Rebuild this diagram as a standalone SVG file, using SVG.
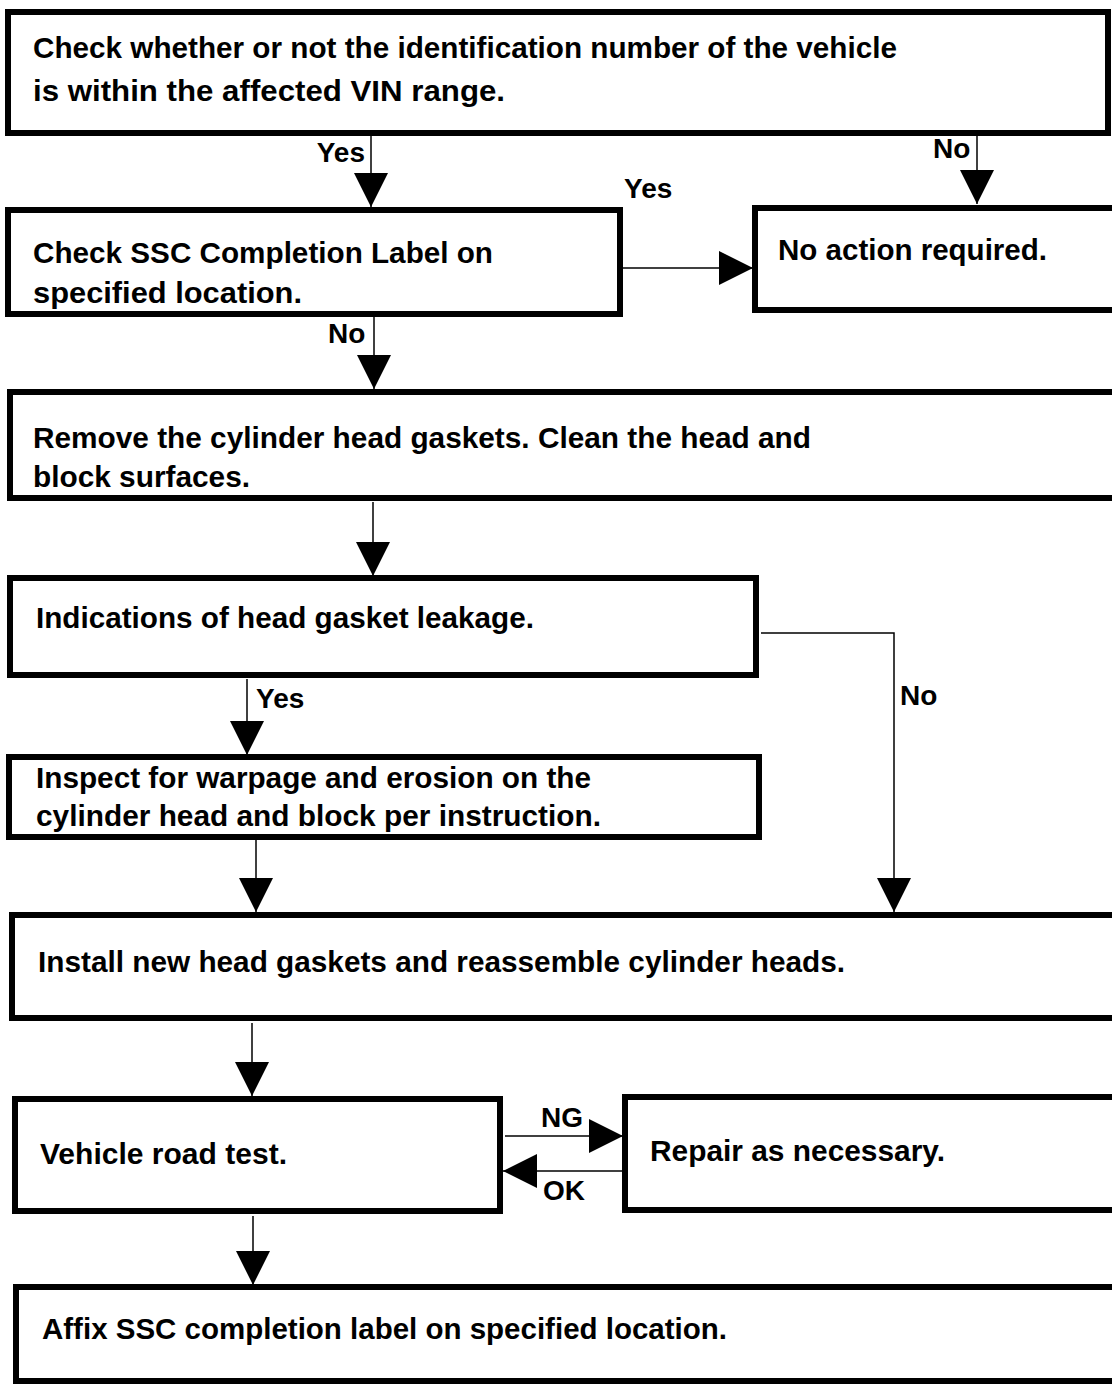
<svg xmlns="http://www.w3.org/2000/svg" width="1112" height="1387" viewBox="0 0 1112 1387">
<defs>
<style>
.box{fill:#fff;stroke:#000;stroke-width:6}
.t{font-family:"Liberation Sans",Arial,sans-serif;font-weight:bold;font-size:29.5px;fill:#000}
.lb{font-family:"Liberation Sans",Arial,sans-serif;font-weight:bold;font-size:28px;fill:#000}
.c{fill:none;stroke:#000;stroke-width:1.5}
</style>
<marker id="ah" markerUnits="userSpaceOnUse" markerWidth="34" markerHeight="34" refX="32" refY="16" orient="auto" viewBox="0 0 32 32">
<path d="M0,0 L32,16 L0,32 z" fill="#000"/>
</marker>
</defs>
<rect width="1112" height="1387" fill="#fff"/>
<g id="connectors">
<line class="c" x1="371" y1="136" x2="371" y2="207" marker-end="url(#ah)"/>
<line class="c" x1="977" y1="136" x2="977" y2="204" marker-end="url(#ah)"/>
<line class="c" x1="623" y1="268" x2="753" y2="268" marker-end="url(#ah)"/>
<line class="c" x1="374" y1="316" x2="374" y2="389" marker-end="url(#ah)"/>
<line class="c" x1="373" y1="502" x2="373" y2="576" marker-end="url(#ah)"/>
<line class="c" x1="247" y1="679" x2="247" y2="755" marker-end="url(#ah)"/>
<polyline class="c" points="761,633 894,633 894,912" marker-end="url(#ah)"/>
<line class="c" x1="256" y1="839" x2="256" y2="912" marker-end="url(#ah)"/>
<line class="c" x1="252" y1="1023" x2="252" y2="1096" marker-end="url(#ah)"/>
<line class="c" x1="505" y1="1136" x2="623" y2="1136" marker-end="url(#ah)"/>
<line class="c" x1="623" y1="1171" x2="503" y2="1171" marker-end="url(#ah)"/>
<line class="c" x1="253" y1="1216" x2="253" y2="1285" marker-end="url(#ah)"/>
<text class="lb" x="365" y="162" text-anchor="end">Yes</text>
<text class="lb" x="933" y="158">No</text>
<text class="lb" x="624" y="198">Yes</text>
<text class="lb" x="328" y="343">No</text>
<text class="lb" x="256" y="708">Yes</text>
<text class="lb" x="900" y="705">No</text>
<text class="lb" x="541" y="1127">NG</text>
<text class="lb" x="543" y="1200">OK</text>
</g>
<g id="n1">
<rect class="box" x="8" y="12" width="1100" height="121"/>
<text class="t" x="33" y="58" textLength="864" lengthAdjust="spacingAndGlyphs">Check whether or not the identification number of the vehicle</text>
<text class="t" x="33" y="101" textLength="472" lengthAdjust="spacingAndGlyphs">is within the affected VIN range.</text>
</g>
<g id="n2">
<rect class="box" x="8" y="210" width="612" height="104"/>
<text class="t" x="33" y="263" textLength="460" lengthAdjust="spacingAndGlyphs">Check SSC Completion Label on</text>
<text class="t" x="33" y="303" textLength="269" lengthAdjust="spacingAndGlyphs">specified location.</text>
</g>
<g id="n3">
<rect class="box" x="755" y="208" width="370" height="102"/>
<text class="t" x="778" y="260" textLength="269" lengthAdjust="spacingAndGlyphs">No action required.</text>
</g>
<g id="n4">
<rect class="box" x="10" y="392" width="1120" height="106"/>
<text class="t" x="33" y="448" textLength="778" lengthAdjust="spacingAndGlyphs">Remove the cylinder head gaskets. Clean the head and</text>
<text class="t" x="33" y="487" textLength="217" lengthAdjust="spacingAndGlyphs">block surfaces.</text>
</g>
<g id="n5">
<rect class="box" x="10" y="578" width="746" height="97"/>
<text class="t" x="36" y="628" textLength="498" lengthAdjust="spacingAndGlyphs">Indications of head gasket leakage.</text>
</g>
<g id="n6">
<rect class="box" x="9" y="757" width="750" height="80"/>
<text class="t" x="36" y="788" textLength="555" lengthAdjust="spacingAndGlyphs">Inspect for warpage and erosion on the</text>
<text class="t" x="36" y="826" textLength="565" lengthAdjust="spacingAndGlyphs">cylinder head and block per instruction.</text>
</g>
<g id="n7">
<rect class="box" x="12" y="915" width="1120" height="103"/>
<text class="t" x="38" y="972" textLength="807" lengthAdjust="spacingAndGlyphs">Install new head gaskets and reassemble cylinder heads.</text>
</g>
<g id="n8">
<rect class="box" x="15" y="1099" width="485" height="112"/>
<text class="t" x="40" y="1164" textLength="247" lengthAdjust="spacingAndGlyphs">Vehicle road test.</text>
</g>
<g id="n9">
<rect class="box" x="625" y="1097" width="505" height="113"/>
<text class="t" x="650" y="1161" textLength="295" lengthAdjust="spacingAndGlyphs">Repair as necessary.</text>
</g>
<g id="n10">
<rect class="box" x="16" y="1287" width="1120" height="94"/>
<text class="t" x="42" y="1339" textLength="685" lengthAdjust="spacingAndGlyphs">Affix SSC completion label on specified location.</text>
</g>
</svg>
